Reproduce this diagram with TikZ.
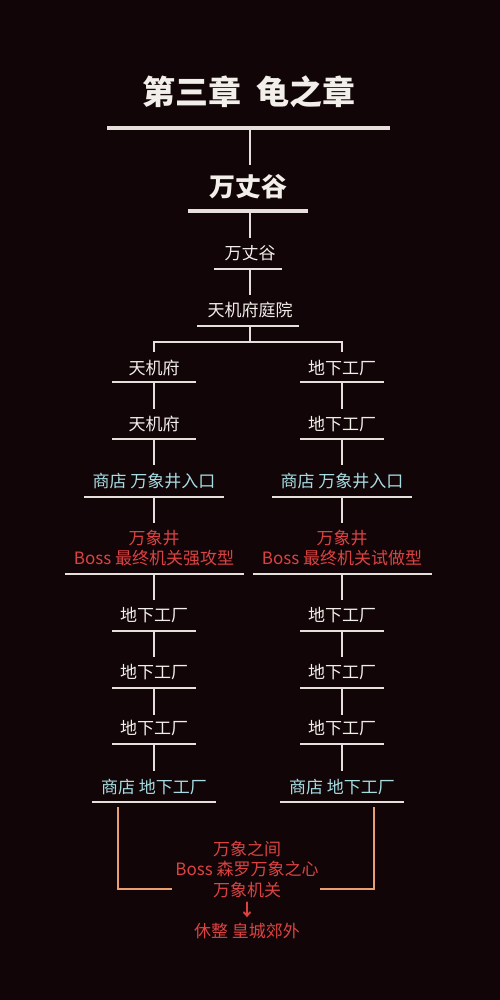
\documentclass[tikz,border=0pt]{standalone}
\usepackage{fontspec}
\setmainfont{Noto Sans CJK SC}
\definecolor{bg}{HTML}{110507}
\definecolor{fg}{HTML}{F2EEEA}
\definecolor{ln}{HTML}{E6E0DC}
\definecolor{teal}{HTML}{A6DCE2}
\definecolor{redc}{HTML}{DC4242}
\definecolor{orng}{HTML}{E8A070}
\begin{document}
\begin{tikzpicture}[x=1pt,y=-1pt,
  lbl/.style={inner sep=0pt,text=fg,font=\fontsize{17}{20}\selectfont},
  shop/.style={lbl,text=teal},
  boss/.style={lbl,text=redc,align=center,font=\fontsize{17}{20.5}\selectfont},
  uline/.style={draw=ln,line width=1.6pt},
  thick/.style={draw=ln,line width=4pt},
  conn/.style={draw=ln,line width=1.6pt},
  brk/.style={draw=orng,line width=1.6pt}]
\fill[bg] (0,0) rectangle (500,1000);
\useasboundingbox (0,0) rectangle (500,1000);
% title
\node[inner sep=0pt,text=fg,font=\fontsize{33}{36}\selectfont\bfseries] (title) at (249,92) {第三章\hspace{0.45em}龟之章};
\coordinate (t1a) at (107,128); \coordinate (t1b) at (390,128); \coordinate (t1m) at (250,128);
\path[thick] (t1a) -- (t1b);
\node[inner sep=0pt,text=fg,font=\fontsize{26}{30}\selectfont\bfseries] (wz) at (248,187) {万丈谷};
\coordinate (wzt) at (250,165);
\path[conn] (t1m) -- (wzt);
\coordinate (t2a) at (188,211); \coordinate (t2b) at (308,211); \coordinate (t2m) at (250,211);
\path[thick] (t2a) -- (t2b);
% 万丈谷
\node[lbl] (n1) at (250,253) {万丈谷};
\coordinate (n1t) at (250,238);
\path[conn] (t2m) -- (n1t);
\coordinate (u1a) at (214,269); \coordinate (u1b) at (282,269); \coordinate (u1m) at (250,269);
\path[uline] (u1a) -- (u1b);
% 天机府庭院
\node[lbl] (n2) at (250,310) {天机府庭院};
\coordinate (n2t) at (250,295);
\path[conn] (u1m) -- (n2t);
\coordinate (u2a) at (197,326); \coordinate (u2b) at (299,326); \coordinate (u2m) at (250,326);
\path[uline] (u2a) -- (u2b);
\coordinate (sp) at (250,342); \coordinate (spl) at (154,342); \coordinate (spr) at (342,342);
\coordinate (spld) at (154,352); \coordinate (sprd) at (342,352);
\path[conn] (u2m) -- (sp);
\path[conn] (spld) -- (spl) -- (spr) -- (sprd);
% columns
\foreach \c/\x/\txa/\txb/\txc/\txd in {L/154/天机府/天机府/万象井入口/强攻型, R/342/地下工厂/地下工厂/万象井入口/试做型}{
  \node[lbl] (\c a) at (\x,368) {\txa};
  \coordinate (\c au1) at (\x-42,382); \coordinate (\c au2) at (\x+42,382); \coordinate (\c am) at (\x,382);
  \path[uline] (\c au1) -- (\c au2);
  \node[lbl] (\c b) at (\x,424) {\txb};
  \coordinate (\c bt) at (\x,409);
  \path[conn] (\c am) -- (\c bt);
  \coordinate (\c bu1) at (\x-42,439); \coordinate (\c bu2) at (\x+42,439); \coordinate (\c bm) at (\x,439);
  \path[uline] (\c bu1) -- (\c bu2);
  \node[shop] (\c c) at (\x,481) {商店 \txc};
  \coordinate (\c ct) at (\x,465);
  \path[conn] (\c bm) -- (\c ct);
  \coordinate (\c cu1) at (\x-70,497); \coordinate (\c cu2) at (\x+70,497); \coordinate (\c cm) at (\x,497);
  \path[uline] (\c cu1) -- (\c cu2);
  \node[boss] (\c d) at (\x,548) {万象井\\Boss 最终机关\txd};
  \coordinate (\c dt) at (\x,523);
  \path[conn] (\c cm) -- (\c dt);
  \coordinate (\c du1) at (\x-89.5,574); \coordinate (\c du2) at (\x+89.5,574); \coordinate (\c dm) at (\x,574);
  \path[uline] (\c du1) -- (\c du2);
  \node[lbl] (\c e) at (\x,615) {地下工厂};
  \coordinate (\c et) at (\x,600);
  \path[conn] (\c dm) -- (\c et);
  \coordinate (\c eu1) at (\x-42,631); \coordinate (\c eu2) at (\x+42,631); \coordinate (\c em) at (\x,631);
  \path[uline] (\c eu1) -- (\c eu2);
  \node[lbl] (\c f) at (\x,672) {地下工厂};
  \coordinate (\c ft) at (\x,657);
  \path[conn] (\c em) -- (\c ft);
  \coordinate (\c fu1) at (\x-42,688); \coordinate (\c fu2) at (\x+42,688); \coordinate (\c fm) at (\x,688);
  \path[uline] (\c fu1) -- (\c fu2);
  \node[lbl] (\c g) at (\x,728) {地下工厂};
  \coordinate (\c gt) at (\x,715);
  \path[conn] (\c fm) -- (\c gt);
  \coordinate (\c gu1) at (\x-42,744); \coordinate (\c gu2) at (\x+42,744); \coordinate (\c gm) at (\x,744);
  \path[uline] (\c gu1) -- (\c gu2);
  \node[shop] (\c h) at (\x,787) {商店 地下工厂};
  \coordinate (\c ht) at (\x,771);
  \path[conn] (\c gm) -- (\c ht);
  \coordinate (\c hu1) at (\x-62,802); \coordinate (\c hu2) at (\x+62,802);
  \path[uline] (\c hu1) -- (\c hu2);
}
% final
\node[boss] (fin) at (247,890) {万象之间\\Boss 森罗万象之心\\万象机关\\{\bfseries ↓}\\休整 皇城郊外};
\coordinate (bl1) at (118,807); \coordinate (bl2) at (118,889); \coordinate (bl3) at (172,889);
\coordinate (br1) at (374,807); \coordinate (br2) at (374,889); \coordinate (br3) at (320,889);
\path[brk] (bl1) -- (bl2) -- (bl3);
\path[brk] (br1) -- (br2) -- (br3);
\end{tikzpicture}
\end{document}
